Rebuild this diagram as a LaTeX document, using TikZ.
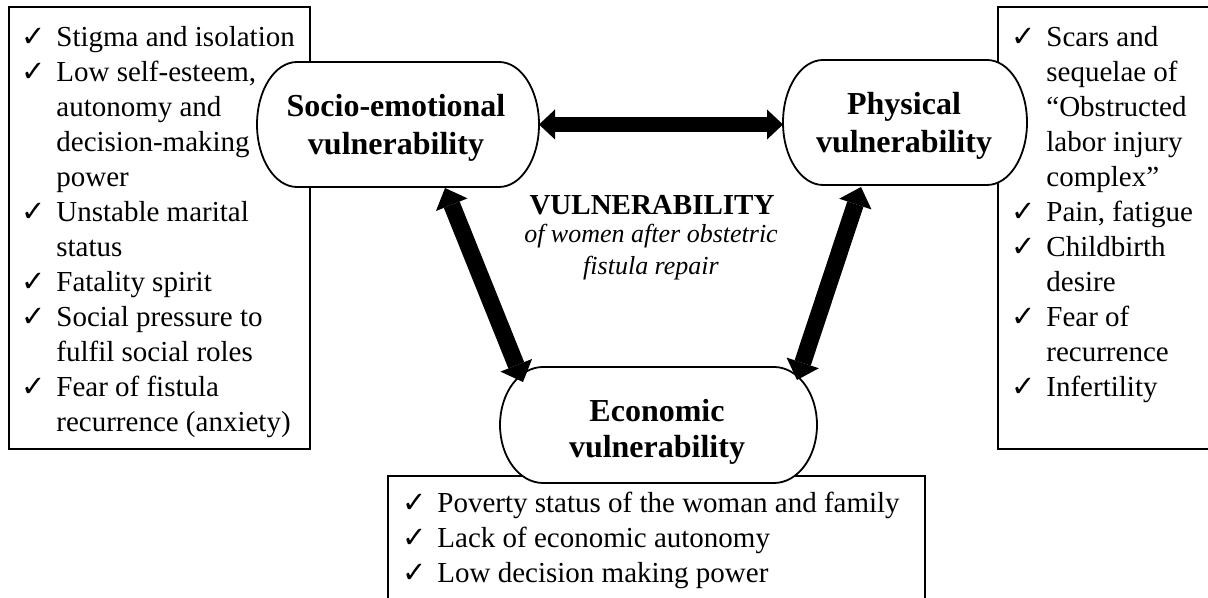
\documentclass[tikz,border=0pt]{standalone}
\usepackage{fontspec}
\setmainfont{Liberation Serif}
\newfontfamily\ckfont{DejaVu Sans}
\usetikzlibrary{arrows.meta,calc}
\pgfdeclarelayer{lists}
\pgfdeclarelayer{shapes}
\pgfsetlayers{lists,shapes,main}
\newcommand\ck{\makebox[17.5pt][l]{\fontsize{14.5}{14.5}\ckfont ✓}}
\newcommand\ind{\hspace*{17.5pt}}
\begin{document}
\begin{tikzpicture}[x=0.5pt,y=0.5pt,
  listbox/.style={draw, line width=0.7pt, anchor=north west, inner sep=0pt, outer sep=0pt},
  listtext/.style={anchor=base west, inner sep=0pt, font=\fontsize{14.5}{17.5}\selectfont},
  vshape/.style={inner sep=0pt, outer sep=0pt},
  vtitle/.style={anchor=base, inner sep=0pt, font=\bfseries\fontsize{16}{19}\selectfont},
  shapeline/.style={draw, fill=white, line width=0.9pt},
  harrow/.style={line width=7.5pt, {Triangle[length=8pt,width=15pt,line width=0pt]}-{Triangle[length=8pt,width=15pt,line width=0pt]}},
  darrow/.style={line width=8.5pt, {Triangle[length=9pt,width=17pt,line width=0pt]}-{Triangle[length=9pt,width=17pt,line width=0pt]}}
]
\useasboundingbox (0,0) rectangle (1208,598);

% vulnerability shapes (named nodes)
\node[vshape, minimum width=141pt, minimum height=62.5pt] (se) at (398,473.5) {};
\node[vshape, minimum width=122pt, minimum height=62.5pt] (ph) at (905,475.5) {};
\node[vshape, minimum width=158.5pt, minimum height=58pt] (ec) at (658.5,173) {};

\begin{pgfonlayer}{lists}
\clip (0,0) rectangle (1208,598);
\node[listbox, minimum width=150.5pt, minimum height=221pt] (lb) at (9,591) {};
\node[listbox, minimum width=115pt, minimum height=221pt] (rb) at (998,591) {};
\node[listbox, minimum width=268.5pt, minimum height=75pt] (bb) at (388,122) {};
\node[listtext] (lt) at (21,551) {\begin{tabular}[t]{@{}l@{}}
\ck Stigma and isolation\\
\ck Low self-esteem,\\
\ind autonomy and\\
\ind decision-making\\
\ind power\\
\ck Unstable marital\\
\ind status\\
\ck Fatality spirit\\
\ck Social pressure to\\
\ind fulfil social roles\\
\ck Fear of fistula\\
\ind recurrence (anxiety)
\end{tabular}};
\node[listtext] (rt) at (1011,551) {\begin{tabular}[t]{@{}l@{}}
\ck Scars and\\
\ind sequelae of\\
\ind “Obstructed\\
\ind labor injury\\
\ind complex”\\
\ck Pain, fatigue\\
\ck Childbirth\\
\ind desire\\
\ck Fear of\\
\ind recurrence\\
\ck Infertility
\end{tabular}};
\node[listtext] (bt) at (402,85) {\begin{tabular}[t]{@{}l@{}}
\ck Poverty status of the woman and family\\
\ck Lack of economic autonomy\\
\ck Low decision making power
\end{tabular}};
\end{pgfonlayer}

\begin{pgfonlayer}{shapes}
\path[shapeline] ([xshift=20pt]se.north west) -- ([xshift=-20pt]se.north east)
  arc[start angle=90,end angle=-90,x radius=20pt,y radius=31.25pt]
  -- ([xshift=20pt]se.south west)
  arc[start angle=270,end angle=90,x radius=20pt,y radius=31.25pt] -- cycle;
\path[shapeline] ([xshift=20pt]ph.north west) -- ([xshift=-20pt]ph.north east)
  arc[start angle=90,end angle=-90,x radius=20pt,y radius=31.25pt]
  -- ([xshift=20pt]ph.south west)
  arc[start angle=270,end angle=90,x radius=20pt,y radius=31.25pt] -- cycle;
\path[shapeline] ([xshift=21.5pt]ec.north west) -- ([xshift=-21.5pt]ec.north east)
  arc[start angle=90,end angle=-90,x radius=21.5pt,y radius=29pt]
  -- ([xshift=21.5pt]ec.south west)
  arc[start angle=270,end angle=90,x radius=21.5pt,y radius=29pt] -- cycle;
\end{pgfonlayer}

% titles
\node[vtitle] (set) at (396,481) {\begin{tabular}[t]{@{}c@{}}Socio-emotional\\vulnerability\end{tabular}};
\node[vtitle] (pht) at (904,483) {\begin{tabular}[t]{@{}c@{}}Physical\\vulnerability\end{tabular}};
\node[vtitle, font=\bfseries\fontsize{16}{18}\selectfont] (ect) at (657,176) {\begin{tabular}[t]{@{}c@{}}Economic\\vulnerability\end{tabular}};

% central text
\node[anchor=base, inner sep=0pt, font=\bfseries\fontsize{14.5}{17}\selectfont] (vt) at (652,383) {VULNERABILITY};
\node[anchor=base, inner sep=0pt, font=\itshape\fontsize{13}{16}\selectfont] (vs) at (651,355) {\begin{tabular}[t]{@{}c@{}}of women after obstetric\\fistula repair\end{tabular}};

% connectors
\draw[harrow] (se.east) -- (se.east -| ph.west);
\draw[darrow] ($(se.south)+(47,-1)$) -- ($(ec.north west)+(23,-15)$);
\draw[darrow] ($(ph.south)+(-44,-2)$) -- ($(ec.north east)+(-20,-13)$);
\end{tikzpicture}
\end{document}
